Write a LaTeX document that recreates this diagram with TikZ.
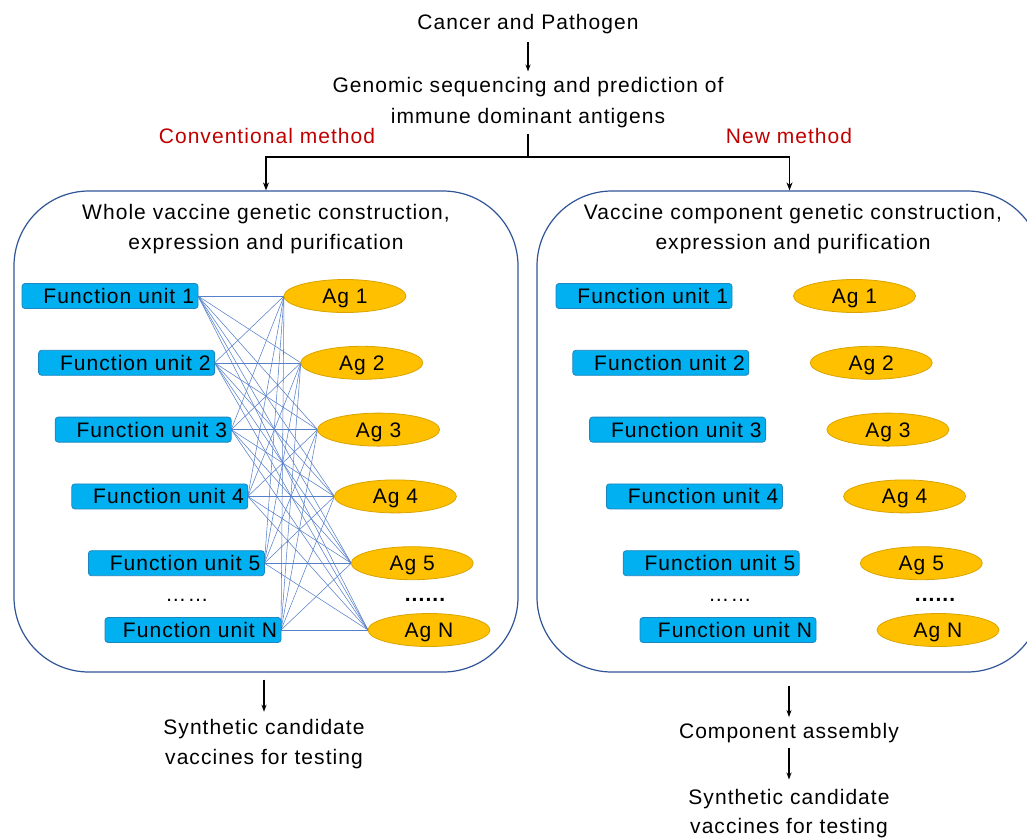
\documentclass[tikz,border=0pt]{standalone}
\usepackage{fontspec}
\setmainfont{Liberation Sans}[LetterSpace=5]
\usetikzlibrary{shapes.geometric,arrows.meta}
\definecolor{fublue}{HTML}{00B0F0}
\definecolor{fuedge}{HTML}{1C86BE}
\definecolor{agfill}{HTML}{FFC000}
\definecolor{agedge}{HTML}{D9A400}
\definecolor{boxedge}{HTML}{2F5597}
\definecolor{linkblue}{HTML}{4472C4}
\definecolor{methred}{HTML}{C00000}
\tikzset{
  txt/.style={inner sep=0pt, align=center},
  red/.style={txt, text=methred},
  bigbox/.style={draw=boxedge, line width=1.2pt, rounded corners=75pt, inner sep=0pt},
  fu/.style={rectangle, rounded corners=3pt, fill=fublue, draw=fuedge, line width=0.8pt,
    minimum height=25pt, inner xsep=4pt, inner ysep=0pt, text width=168pt, align=right,
    text height=15pt, text depth=0pt},
  ag/.style={ellipse, fill=agfill, draw=agedge, line width=0.8pt,
    minimum width=122pt, minimum height=33pt, inner sep=0pt, text height=15pt, text depth=0pt},
  link/.style={draw=linkblue!90, line width=0.55pt},
  arr/.style={-{Stealth[length=7pt,width=5pt]}, line width=1.2pt},
  branch/.style={line width=1.8pt},
}
\begin{document}
\begin{tikzpicture}[x=1pt,y=-1pt,font=\fontsize{21}{30.5}\selectfont]
\useasboundingbox (0,0) rectangle (1027,839);
\clip (0,0) rectangle (1027,839);

% top texts
\node[txt, anchor=base] (top) at (528,29.5) {Cancer and Pathogen};
\node[txt] (gen) at (528,102.7) {Genomic sequencing and prediction of\\immune dominant antigens};
\draw[arr, shorten <=8pt, shorten >=6pt] (top.south) -- (gen.north);

\node[red, anchor=base] (conv) at (267,143) {Conventional method};
\node[red, anchor=base] (newm) at (789,143) {New method};

% boxes
\node[bigbox, minimum width=504pt, minimum height=481pt] (lbox) at (266,431.5) {};
\node[bigbox, minimum width=505pt, minimum height=481pt] (rbox) at (789.5,431.5) {};

\coordinate (split) at (528,157);
\draw[branch, shorten <=6pt] (gen.south) -- (split);
\draw[branch, -{Stealth[length=8pt,width=6pt]}] (split) -| (lbox.north);
\draw[branch, -{Stealth[length=8pt,width=6pt]}] (split) -| (rbox.north);

\node[txt] (lhead) at (266,229) {Whole vaccine genetic construction,\\expression and purification};
\node[txt] (rhead) at (793,229) {Vaccine component genetic construction,\\expression and purification};

% links (drawn first, below the shapes)
\foreach \i in {1,...,6}{
  \foreach \j in {1,...,6}{
    \draw[link] ({198+16.6*(\i-1)},{296+66.8*(\i-1)}) coordinate (lue\i\j) -- ({284+16.8*(\j-1)},{296+66.8*(\j-1)}) coordinate (law\i\j);
  }
}

% function units and antigens
\foreach \i/\lab in {1/1,2/2,3/3,4/4,5/5,6/N}{
  \node[fu] (lu\i) at ({110+16.6*(\i-1)},{296+66.8*(\i-1)}) {Function unit \lab};
  \node[ag] (la\i) at ({345+16.8*(\i-1)},{296+66.8*(\i-1)}) {Ag \lab};
  \node[fu] (ru\i) at ({644+16.8*(\i-1)},{296+66.8*(\i-1)}) {Function unit \lab};
  \node[ag] (ra\i) at ({854.5+16.7*(\i-1)},{296+66.8*(\i-1)}) {Ag \lab};
}

\node[txt, anchor=base] (ldots) at (187,601) {……};
\node[txt, anchor=base, font=\fontsize{21}{30.5}\selectfont\bfseries] (ladots) at (425,601) {......};
\node[txt, anchor=base] (rdots) at (730,601) {……};
\node[txt, anchor=base, font=\fontsize{21}{30.5}\selectfont\bfseries] (radots) at (935,601) {......};

% bottom
\node[txt] (syn1) at (264,744) {Synthetic candidate\\vaccines for testing};
\draw[arr, shorten <=7pt, shorten >=7pt] (lbox.south -| syn1.north) -- (syn1.north);

\node[txt, anchor=base] (comp) at (789,738.5) {Component assembly};
\draw[arr, shorten <=13pt, shorten >=6pt] (rbox.south -| comp.north) -- (comp.north);
\node[txt, font=\fontsize{21}{29}\selectfont] (syn2) at (789,814) {Synthetic candidate\\vaccines for testing};
\draw[arr, shorten <=5pt, shorten >=10pt] (comp.south) -- (syn2.north);
\end{tikzpicture}
\end{document}
